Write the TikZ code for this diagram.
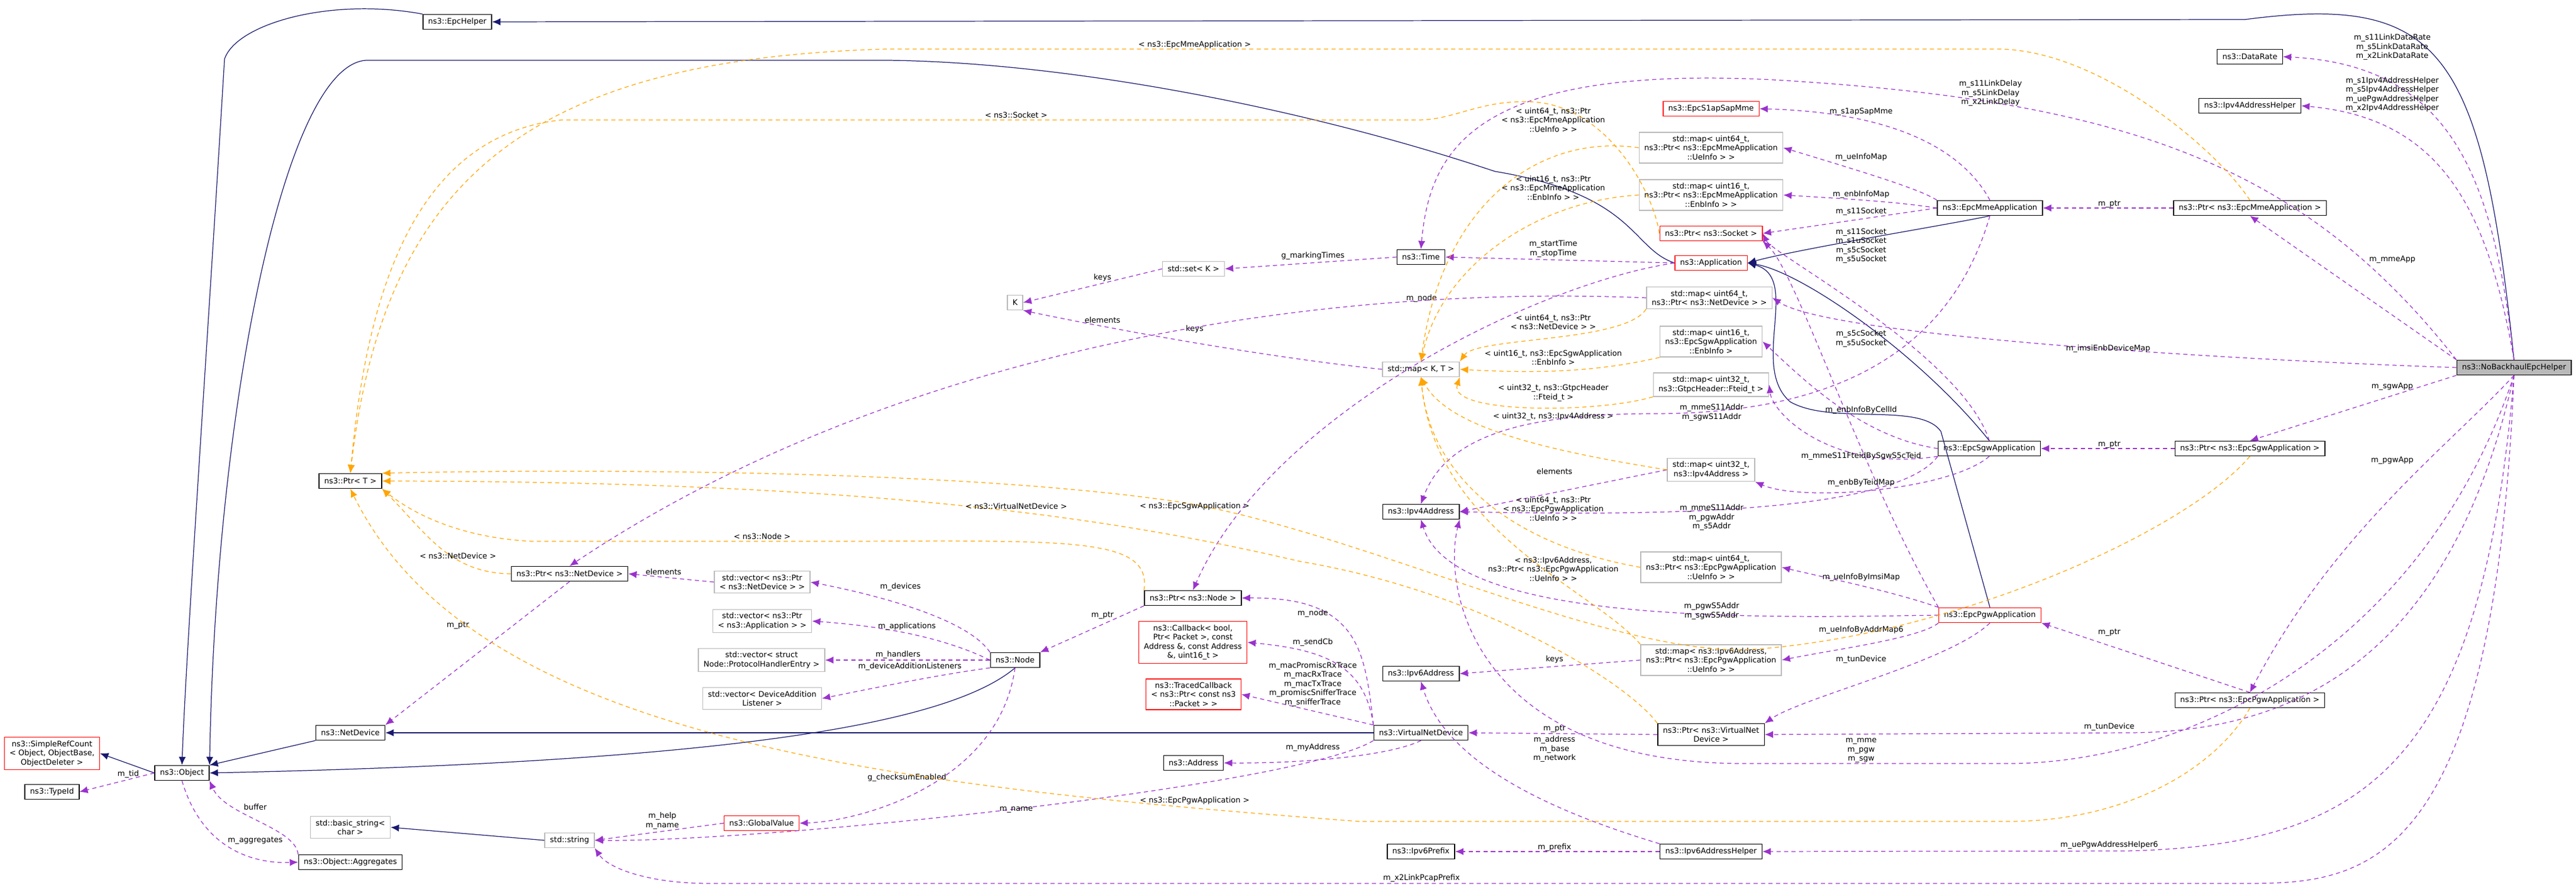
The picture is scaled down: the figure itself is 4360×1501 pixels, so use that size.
\documentclass[tikz,border=0pt]{standalone}
\usepackage{fontspec}
\setmainfont{DejaVu Sans}
\usetikzlibrary{positioning,arrows.meta}
\definecolor{inhcol}{RGB}{25,25,112}
\definecolor{usecol}{RGB}{154,50,205}
\definecolor{tmplcol}{RGB}{255,165,0}
\tikzset{
  cls/.style={draw=black,fill=white,align=center,inner xsep=2.5pt,inner ysep=1.6pt,minimum height=0.25cm,font=\fontsize{3.7}{4.4}\selectfont},
  redcls/.style={cls,draw=red},
  grycls/.style={cls,draw=gray!55},
  inh/.style={draw=inhcol,line width=0.35pt,-{Latex[length=4pt,width=3.4pt]}},
  use/.style={draw=usecol,dashed,dash pattern=on 2pt off 1.6pt,line width=0.35pt,-{Latex[length=4pt,width=3.4pt]}},
  tmpl/.style={draw=tmplcol,dashed,dash pattern=on 2pt off 1.6pt,line width=0.35pt,-{Latex[length=4pt,width=3.4pt]}},
  lbl/.style={align=center,inner sep=0pt,font=\fontsize{3.7}{4.4}\selectfont}
}
\begin{document}
\begin{tikzpicture}[x=0.01cm,y=-0.01cm]
\useasboundingbox (0,0) rectangle (4360,1501);
% classes
\node[cls] (epchelper) at (774,37) {ns3::EpcHelper};
\node[cls] (object) at (308,1308) {ns3::Object};
\node[redcls] (refcount) at (88,1275) {ns3::SimpleRefCount\\< Object, ObjectBase,\\ ObjectDeleter >};
\node[cls] (typeid) at (88,1340) {ns3::TypeId};
\node[cls] (aggregates) at (593,1459) {ns3::Object::Aggregates};
\node[grycls] (basicstr) at (593,1400) {std::basic\_string<\\ char >};
\node[grycls] (string) at (964,1422) {std::string};
\node[redcls] (globalvalue) at (1289,1393) {ns3::GlobalValue};
\node[cls] (netdevice) at (593,1240) {ns3::NetDevice};
\node[cls] (ptrT) at (593,814) {ns3::Ptr< T >};
\node[cls] (ptrnetdev) at (964,971) {ns3::Ptr< ns3::NetDevice >};
\node[grycls] (vecnetdev) at (1290,985) {std::vector< ns3::Ptr\\< ns3::NetDevice > >};
\node[grycls] (vecapp) at (1290,1051) {std::vector< ns3::Ptr\\< ns3::Application > >};
\node[grycls] (vechandler) at (1289,1117) {std::vector< struct\\ Node::ProtocolHandlerEntry >};
\node[grycls] (veclistener) at (1290,1182) {std::vector< DeviceAddition\\Listener >};
\node[cls] (node) at (1718,1117) {ns3::Node};
\node[grycls] (keyK) at (1718,512) {K};
\node[grycls] (setK) at (2020,455) {std::set< K >};
\node[cls] (ptrnode) at (2019,1012) {ns3::Ptr< ns3::Node >};
\node[redcls] (callback) at (2019,1087) {ns3::Callback< bool,\\ Ptr< Packet >, const\\ Address \&, const Address\\ \&, uint16\_t >};
\node[redcls] (traced) at (2020,1175) {ns3::TracedCallback\\< ns3::Ptr< const ns3\\::Packet > >};
\node[cls] (address) at (2020,1291) {ns3::Address};
\node[cls] (time) at (2405,435) {ns3::Time};
\node[grycls] (mapKT) at (2405,625) {std::map< K, T >};
\node[cls] (ipv4addr) at (2405,866) {ns3::Ipv4Address};
\node[cls] (ipv6addr) at (2405,1140) {ns3::Ipv6Address};
\node[cls] (vnd) at (2405,1240) {ns3::VirtualNetDevice};
\node[cls] (ipv6prefix) at (2405,1441) {ns3::Ipv6Prefix};
\node[redcls] (s1apsap) at (2896,184) {ns3::EpcS1apSapMme};
\node[grycls] (mapmmeue) at (2896,250) {std::map< uint64\_t,\\ ns3::Ptr< ns3::EpcMmeApplication\\ ::UeInfo > >};
\node[grycls] (mapmmeenb) at (2896,330) {std::map< uint16\_t,\\ ns3::Ptr< ns3::EpcMmeApplication\\ ::EnbInfo > >};
\node[redcls] (ptrsocket) at (2896,395) {ns3::Ptr< ns3::Socket >};
\node[redcls] (application) at (2896,445) {ns3::Application};
\node[grycls] (mapnetdev) at (2893,504) {std::map< uint64\_t,\\ ns3::Ptr< ns3::NetDevice > >};
\node[grycls] (mapsgwenb) at (2896,578) {std::map< uint16\_t,\\ ns3::EpcSgwApplication\\ ::EnbInfo >};
\node[grycls] (mapfteid) at (2896,651) {std::map< uint32\_t,\\ ns3::GtpcHeader::Fteid\_t >};
\node[grycls] (mapipv4) at (2896,795) {std::map< uint32\_t,\\ ns3::Ipv4Address >};
\node[grycls] (mappgwue) at (2896,960) {std::map< uint64\_t,\\ ns3::Ptr< ns3::EpcPgwApplication\\ ::UeInfo > >};
\node[grycls] (mapipv6) at (2896,1117) {std::map< ns3::Ipv6Address,\\ ns3::Ptr< ns3::EpcPgwApplication\\ ::UeInfo > >};
\node[cls] (ptrvnd) at (2896,1243) {ns3::Ptr< ns3::VirtualNet\\ Device >};
\node[cls] (ipv6helper) at (2896,1441) {ns3::Ipv6AddressHelper};
\node[cls] (mmeapp) at (3368,352) {ns3::EpcMmeApplication};
\node[cls] (sgwapp) at (3367,759) {ns3::EpcSgwApplication};
\node[redcls] (pgwapp) at (3368,1041) {ns3::EpcPgwApplication};
\node[cls] (datarate) at (3808,96) {ns3::DataRate};
\node[cls] (ipv4helper) at (3808,179) {ns3::Ipv4AddressHelper};
\node[cls] (ptrmme) at (3808,352) {ns3::Ptr< ns3::EpcMmeApplication >};
\node[cls] (ptrsgw) at (3808,759) {ns3::Ptr< ns3::EpcSgwApplication >};
\node[cls] (ptrpgw) at (3808,1185) {ns3::Ptr< ns3::EpcPgwApplication >};
\node[cls,fill=gray!55] (helper) at (4255,622) {ns3::NoBackhaulEpcHelper};
% inheritance
\draw[inh] (helper.north) .. controls (4200,80) and (4130,-10) .. (3800,33) -- (epchelper.east);
\draw[inh] (epchelper.north west) .. controls (560,-5) and (400,40) .. (380,100) .. controls (350,600) and (315,1100) .. (object.north);
\draw[inh] (application.west) .. controls (2760,420) and (2770,330) .. (2530,290) .. controls (2200,180) and (1800,105) .. (1500,102) -- (620,102) .. controls (480,110) and (365,700) .. (object.north east);
\draw[inh] (netdevice.south west) -- (object.north east);
\draw[inh] (node.south) .. controls (1600,1230) and (1200,1290) .. (object.east);
\draw[inh] (object.west) -- (refcount.east);
\draw[inh] (vnd.west) -- (netdevice.east);
\draw[inh] (mmeapp.south) .. controls (3300,380) and (3050,420) .. (application.east);
\draw[inh] (sgwapp.north) .. controls (3250,600) and (3050,460) .. (application.east);
\draw[inh] (pgwapp.north) -- (3285,730) .. controls (3250,680) and (3100,720) .. (3030,680) .. controls (2960,620) and (3050,470) .. (application.east);
\draw[inh] (string.west) -- (basicstr.east);
% usage
\draw[use] (object.west) -- (typeid.east);
\node[lbl] at (217,1310) {m\_tid};
\draw[use] (aggregates.north west) .. controls (500,1400) and (380,1380) .. (object.south east);
\node[lbl] at (432,1366) {buffer};
\draw[use] (object.south) .. controls (340,1430) and (420,1462) .. (aggregates.west);
\node[lbl] at (432,1422) {m\_aggregates};
\draw[use] (ptrnetdev.south) -- (netdevice.north east);
\node[lbl] at (775,1058) {m\_ptr};
\draw[use] (vecnetdev.west) -- (ptrnetdev.east);
\node[lbl] at (1123,968) {elements};
\draw[use] (node.north west) .. controls (1640,1050) and (1500,1010) .. (vecnetdev.east);
\node[lbl] at (1524,993) {m\_devices};
\draw[use] (node.west) .. controls (1600,1080) and (1500,1060) .. (vecapp.east);
\node[lbl] at (1535,1060) {m\_applications};
\draw[use] (node.west) -- (vechandler.east);
\node[lbl] at (1520,1108) {m\_handlers};
\draw[use] (node.south west) .. controls (1600,1140) and (1500,1160) .. (veclistener.east);
\node[lbl] at (1540,1128) {m\_deviceAdditionListeners};
\draw[use] (node.south) .. controls (1690,1330) and (1450,1390) .. (globalvalue.east);
\node[lbl] at (1535,1316) {g\_checksumEnabled};
\draw[use] (globalvalue.west) -- (string.east);
\node[lbl] at (1121,1389) {m\_help\\m\_name};
\draw[use] (vnd.south west) .. controls (2200,1330) and (1300,1425) .. (string.east);
\node[lbl] at (1720,1370) {m\_name};
\draw[use] (helper.south) .. controls (4220,1480) and (4000,1495) .. (3800,1495) -- (1200,1495) .. controls (1100,1495) and (1030,1470) .. (string.south east);
\node[lbl] at (2406,1486) {m\_x2LinkPcapPrefix};
\draw[use] (ptrnode.south west) -- (node.north east);
\node[lbl] at (1866,1041) {m\_ptr};
\draw[use] (vnd.north west) .. controls (2310,1100) and (2300,1010) .. (ptrnode.east);
\node[lbl] at (2222,1038) {m\_node};
\draw[use] (application.west) .. controls (2600,480) and (2150,700) .. (ptrnode.north);
\node[lbl] at (2406,505) {m\_node};
\draw[use] (vnd.north west) .. controls (2310,1130) and (2250,1100) .. (callback.east);
\node[lbl] at (2222,1087) {m\_sendCb};
\draw[use] (vnd.north west) -- (traced.east);
\node[lbl] at (2222,1158) {m\_macPromiscRxTrace\\m\_macRxTrace\\m\_macTxTrace\\m\_promiscSnifferTrace\\m\_snifferTrace};
\draw[use] (vnd.south) .. controls (2350,1280) and (2200,1292) .. (address.east);
\node[lbl] at (2222,1265) {m\_myAddress};
\draw[use] (ptrvnd.west) -- (vnd.east);
\node[lbl] at (2631,1233) {m\_ptr};
\draw[use] (ipv6helper.north west) .. controls (2650,1380) and (2450,1300) .. (ipv6addr.south);
\node[lbl] at (2631,1268) {m\_address\\m\_base\\m\_network};
\draw[use] (ipv6helper.west) -- (ipv6prefix.east);
\node[lbl] at (2631,1434) {m\_prefix};
\draw[use] (helper.south) .. controls (4200,1300) and (4000,1430) .. (3600,1440) -- (ipv6helper.east);
\node[lbl] at (3570,1430) {m\_uePgwAddressHelper6};
\draw[use] (mapipv6.west) -- (ipv6addr.east);
\node[lbl] at (2631,1116) {keys};
\draw[use] (mapipv4.west) -- (ipv4addr.east);
\node[lbl] at (2631,798) {elements};
\draw[use] (sgwapp.south west) .. controls (3200,880) and (2700,870) .. (ipv4addr.east);
\node[lbl] at (2897,876) {m\_mmeS11Addr\\m\_pgwAddr\\m\_s5Addr};
\draw[use] (mmeapp.south) .. controls (3300,600) and (3100,700) .. (2800,700) .. controls (2600,700) and (2450,730) .. (ipv4addr.north);
\node[lbl] at (2897,698) {m\_mmeS11Addr\\m\_sgwS11Addr};
\draw[use] (pgwapp.west) .. controls (3000,1045) and (2460,1060) .. (ipv4addr.south);
\node[lbl] at (2897,1034) {m\_pgwS5Addr\\m\_sgwS5Addr};
\draw[use] (helper.south) .. controls (4100,1100) and (3700,1292) .. (3400,1292) -- (2950,1292) .. controls (2500,1292) and (2440,1000) .. (ipv4addr.south east);
\node[lbl] at (3150,1270) {m\_mme\\m\_pgw\\m\_sgw};
\draw[use] (setK.west) -- (keyK.east);
\node[lbl] at (1866,470) {keys};
\draw[use] (mapKT.west) .. controls (2100,600) and (1800,540) .. (keyK.south east);
\node[lbl] at (2022,557) {keys};
\draw[use] (mapnetdev.west) .. controls (2200,480) and (1500,600) .. (ptrnetdev.north);
\node[lbl] at (1866,542) {elements};
\draw[use] (time.west) -- (setK.east);
\node[lbl] at (2222,433) {g\_markingTimes};
\draw[use] (application.west) -- (time.east);
\node[lbl] at (2629,421) {m\_startTime\\m\_stopTime};
\draw[use] (helper.north west) .. controls (3900,280) and (3600,170) .. (3000,135) .. controls (2500,110) and (2420,250) .. (time.north);
\node[lbl] at (3369,158) {m\_s11LinkDelay\\m\_s5LinkDelay\\m\_x2LinkDelay};
\draw[use] (mmeapp.north) .. controls (3320,250) and (3200,190) .. (s1apsap.east);
\node[lbl] at (3150,189) {m\_s1apSapMme};
\draw[use] (mmeapp.north west) .. controls (3250,320) and (3150,290) .. (mapmmeue.east);
\node[lbl] at (3150,266) {m\_ueInfoMap};
\draw[use] (mmeapp.west) .. controls (3200,340) and (3100,335) .. (mapmmeenb.east);
\node[lbl] at (3150,329) {m\_enbInfoMap};
\draw[use] (mmeapp.west) -- (ptrsocket.east);
\node[lbl] at (3150,358) {m\_s11Socket};
\draw[use] (sgwapp.north) .. controls (3320,600) and (3000,430) .. (ptrsocket.east);
\node[lbl] at (3150,416) {m\_s11Socket\\m\_s1uSocket\\m\_s5cSocket\\m\_s5uSocket};
\draw[use] (pgwapp.north west) .. controls (3150,800) and (3040,460) .. (ptrsocket.south east);
\node[lbl] at (3150,573) {m\_s5cSocket\\m\_s5uSocket};
\draw[use] (helper.west) .. controls (3800,610) and (3100,570) .. (mapnetdev.east);
\node[lbl] at (3568,590) {m\_imsiEnbDeviceMap};
\draw[use] (sgwapp.west) .. controls (3150,740) and (3050,640) .. (mapsgwenb.east);
\node[lbl] at (3150,694) {m\_enbInfoByCellId};
\draw[use] (sgwapp.south west) .. controls (3100,800) and (3000,700) .. (mapfteid.east);
\node[lbl] at (3150,772) {m\_mmeS11FteidBySgwS5cTeid};
\draw[use] (sgwapp.south) .. controls (3300,830) and (3050,850) .. (mapipv4.south east);
\node[lbl] at (3150,817) {m\_enbByTeidMap};
\draw[use] (pgwapp.north west) .. controls (3200,1000) and (3100,980) .. (mappgwue.east);
\node[lbl] at (3150,977) {m\_ueInfoByImsiMap};
\draw[use] (pgwapp.south west) .. controls (3250,1080) and (3100,1100) .. (mapipv6.east);
\node[lbl] at (3150,1066) {m\_ueInfoByAddrMap6};
\draw[use] (pgwapp.south) .. controls (3300,1120) and (3050,1180) .. (ptrvnd.north east);
\node[lbl] at (3150,1116) {m\_tunDevice};
\draw[use] (helper.south) .. controls (4150,1100) and (3900,1240) .. (3600,1240) -- (ptrvnd.east);
\node[lbl] at (3570,1230) {m\_tunDevice};
\draw[use] (ptrmme.west) -- (mmeapp.east);
\node[lbl] at (3570,345) {m\_ptr};
\draw[use] (ptrsgw.west) -- (sgwapp.east);
\node[lbl] at (3570,752) {m\_ptr};
\draw[use] (ptrpgw.north) -- (pgwapp.south east);
\node[lbl] at (3570,1070) {m\_ptr};
\draw[use] (helper.north west) -- (ptrmme.south);
\node[lbl] at (4049,439) {m\_mmeApp};
\draw[use] (helper.south west) -- (ptrsgw.north);
\node[lbl] at (4049,654) {m\_sgwApp};
\draw[use] (helper.south) .. controls (4150,750) and (3950,900) .. (ptrpgw.north);
\node[lbl] at (4049,779) {m\_pgwApp};
\draw[use] (helper.north) .. controls (4220,300) and (4150,110) .. (datarate.east);
\node[lbl] at (4049,80) {m\_s11LinkDataRate\\m\_s5LinkDataRate\\m\_x2LinkDataRate};
\draw[use] (helper.north) .. controls (4210,350) and (4130,200) .. (ipv4helper.east);
\node[lbl] at (4049,160) {m\_s1Ipv4AddressHelper\\m\_s5Ipv4AddressHelper\\m\_uePgwAddressHelper\\m\_x2Ipv4AddressHelper};
% templates
\draw[tmpl] (ptrmme.north) .. controls (3750,250) and (3550,83) .. (3380,83) -- (1500,83) .. controls (900,100) and (650,300) .. (ptrT.north);
\node[lbl] at (2022,76) {< ns3::EpcMmeApplication >};
\draw[tmpl] (ptrsocket.west) .. controls (2800,330) and (2720,170) .. (2580,172) .. controls (2500,172) and (2460,203) .. (2400,203) -- (950,203) .. controls (700,230) and (620,500) .. (ptrT.north);
\node[lbl] at (1720,195) {< ns3::Socket >};
\draw[tmpl] (ptrnetdev.west) .. controls (760,970) and (720,900) .. (ptrT.south east);
\node[lbl] at (775,941) {< ns3::NetDevice >};
\draw[tmpl] (ptrnode.north west) .. controls (1950,905) and (1800,916) .. (1400,916) -- (900,916) .. controls (780,910) and (700,870) .. (ptrT.south east);
\node[lbl] at (1290,908) {< ns3::Node >};
\draw[tmpl] (ptrvnd.north west) .. controls (2750,1150) and (2500,1000) .. (2200,950) .. controls (1900,880) and (1500,815) .. (ptrT.east);
\node[lbl] at (1720,857) {< ns3::VirtualNetDevice >};
\draw[tmpl] (ptrsgw.south) .. controls (3700,900) and (3300,1080) .. (2950,1100) .. controls (2700,1100) and (2300,900) .. (2000,850) .. controls (1600,790) and (900,795) .. (ptrT.north east);
\node[lbl] at (2022,857) {< ns3::EpcSgwApplication >};
\draw[tmpl] (ptrpgw.south) .. controls (3750,1300) and (3600,1390) .. (3400,1390) -- (2300,1390) .. controls (1500,1330) and (800,1250) .. (ptrT.south);
\node[lbl] at (2022,1355) {< ns3::EpcPgwApplication >};
\draw[tmpl] (mapmmeue.west) .. controls (2600,225) and (2440,350) .. (mapKT.north);
\node[lbl] at (2629,203) {< uint64\_t, ns3::Ptr\\< ns3::EpcMmeApplication\\::UeInfo > >};
\draw[tmpl] (mapmmeenb.west) .. controls (2600,340) and (2440,450) .. (mapKT.north);
\node[lbl] at (2629,318) {< uint16\_t, ns3::Ptr\\< ns3::EpcMmeApplication\\::EnbInfo > >};
\draw[tmpl] (mapnetdev.south west) .. controls (2750,580) and (2500,570) .. (mapKT.north east);
\node[lbl] at (2629,545) {< uint64\_t, ns3::Ptr\\< ns3::NetDevice > >};
\draw[tmpl] (mapsgwenb.south west) .. controls (2700,630) and (2600,632) .. (mapKT.east);
\node[lbl] at (2629,605) {< uint16\_t, ns3::EpcSgwApplication\\::EnbInfo >};
\draw[tmpl] (mapfteid.south west) .. controls (2700,700) and (2450,700) .. (mapKT.south east);
\node[lbl] at (2629,665) {< uint32\_t, ns3::GtpcHeader\\::Fteid\_t >};
\draw[tmpl] (mapipv4.west) .. controls (2600,760) and (2450,720) .. (mapKT.south);
\node[lbl] at (2629,705) {< uint32\_t, ns3::Ipv4Address >};
\draw[tmpl] (mappgwue.west) .. controls (2550,920) and (2420,800) .. (mapKT.south);
\node[lbl] at (2629,861) {< uint64\_t, ns3::Ptr\\< ns3::EpcPgwApplication\\::UeInfo > >};
\draw[tmpl] (mapipv6.north west) .. controls (2700,1000) and (2430,900) .. (mapKT.south);
\node[lbl] at (2629,963) {< ns3::Ipv6Address,\\ns3::Ptr< ns3::EpcPgwApplication\\::UeInfo > >};
\end{tikzpicture}
\end{document}
